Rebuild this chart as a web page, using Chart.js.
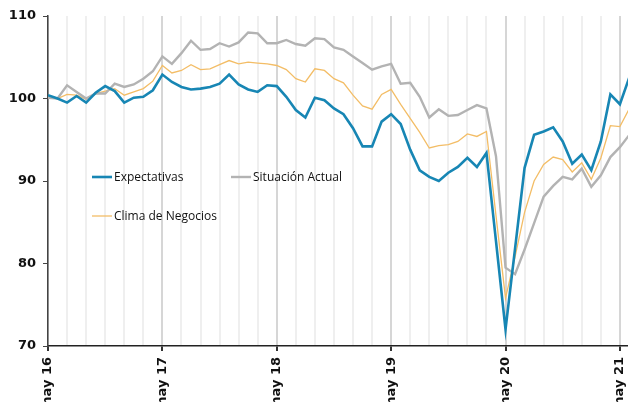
<!DOCTYPE html>
<html>
<head>
<meta charset="utf-8">
<script src="https://cdn.jsdelivr.net/npm/chart.js@4/dist/chart.umd.min.js"></script>
<style>
  html, body { margin: 0; padding: 0; background: #fff; }
  #wrap { width: 628px; height: 402px; }
</style>
</head>
<body>
<div id="wrap"><canvas id="chart"></canvas></div>
<script>
// monthly index, 0 = may 16 ... 61 = jun 21
const tickLabels = ['may 16', 'may 17', 'may 18', 'may 19', 'may 20', 'may 21'];

const expectativas = [100.4, 100.0, 99.5, 100.3, 99.5, 100.7, 101.5, 100.9, 99.5, 100.1, 100.2, 101.0,
  102.9, 102.0, 101.4, 101.1, 101.2, 101.4, 101.8, 102.9, 101.7, 101.1, 100.8, 101.6,
  101.5, 100.2, 98.6, 97.7, 100.1, 99.8, 98.8, 98.1, 96.4, 94.2, 94.2, 97.2,
  98.1, 96.9, 93.8, 91.3, 90.5, 90.0, 91.0, 91.7, 92.8, 91.7, 93.4, 82.7,
  72.0, 81.8, 91.6, 95.6, 96.0, 96.5, 94.8, 92.1, 93.2, 91.3, 94.8, 100.5,
  99.3, 102.6];

const situacion = [100.1, 100.0, 101.6, 100.8, 100.0, 100.6, 100.6, 101.8, 101.4, 101.7, 102.4, 103.3,
  105.1, 104.2, 105.5, 107.0, 105.9, 106.0, 106.7, 106.3, 106.8, 108.0, 107.9, 106.7,
  106.7, 107.1, 106.6, 106.4, 107.3, 107.2, 106.2, 105.9, 105.1, 104.3, 103.5, 103.9,
  104.2, 101.8, 101.9, 100.2, 97.7, 98.7, 97.9, 98.0, 98.6, 99.2, 98.8, 93.0,
  79.5, 78.7, 81.7, 84.9, 88.1, 89.4, 90.5, 90.2, 91.5, 89.3, 90.7, 92.9,
  94.1, 95.6];

const clima = [100.1, 100.0, 100.5, 100.4, 99.9, 100.6, 100.9, 101.2, 100.4, 100.8, 101.2, 102.1,
  104.0, 103.1, 103.4, 104.1, 103.5, 103.6, 104.1, 104.6, 104.2, 104.4, 104.3, 104.2,
  104.0, 103.5, 102.4, 102.0, 103.6, 103.4, 102.4, 101.9, 100.4, 99.1, 98.7, 100.5,
  101.1, 99.3, 97.6, 95.9, 94.0, 94.3, 94.4, 94.8, 95.7, 95.4, 96.0, 85.8,
  75.8, 80.8, 86.2, 90.0, 92.0, 92.9, 92.6, 91.1, 92.2, 90.2, 92.8, 96.7,
  96.6, 98.8];

const toPoints = arr => arr.map((v, i) => ({ x: i, y: v }));

// legend drawn inside the plot, like the original
const innerLegend = {
  id: 'innerLegend',
  afterDraw(chart) {
    const ctx = chart.ctx;
    const spots = [[92, 177], [231, 177], [92, 216]];
    ctx.save();
    ctx.font = '12px "Open Sans"';
    ctx.textBaseline = 'middle';
    chart.data.datasets.forEach((ds, i) => {
      const [x, y] = spots[i];
      ctx.strokeStyle = ds.borderColor;
      ctx.lineWidth = ds.borderWidth;
      ctx.beginPath();
      ctx.moveTo(x, y);
      ctx.lineTo(x + 20, y);
      ctx.stroke();
      ctx.fillStyle = '#111';
      ctx.fillText(ds.label, x + 22, y + 1);
    });
    ctx.restore();
  }
};

new Chart(document.getElementById('chart'), {
  type: 'line',
  data: {
    datasets: [
      { label: 'Expectativas', data: toPoints(expectativas), borderColor: '#1786b4', borderWidth: 2.6 },
      { label: 'Situación Actual', data: toPoints(situacion), borderColor: '#b3b3b3', borderWidth: 2.4 },
      { label: 'Clima de Negocios', data: toPoints(clima), borderColor: '#f3bd66', borderWidth: 1.3 }
    ]
  },
  options: {
    responsive: true,
    maintainAspectRatio: false,
    animation: false,
    elements: { point: { radius: 0 }, line: { tension: 0 } },
    layout: { padding: { top: 16, right: 0, left: 0, bottom: 0 } },
    plugins: { legend: { display: false }, tooltip: { enabled: false } },
    scales: {
      x: {
        type: 'linear',
        min: 0,
        max: 60.85,
        // one tick every two months, labels only on may
        afterBuildTicks: s => {
          const t = [];
          for (let v = 0; v <= 60; v += 2) t.push({ value: v });
          s.ticks = t;
        },
        afterFit: s => { s.height = 56; s.paddingLeft = 0; s.paddingRight = 0; },
        ticks: {
          autoSkip: false,
          minRotation: 90,
          maxRotation: 90,
          padding: 6,
          color: '#111',
          font: { family: 'DejaVu Sans', size: 13, weight: 'bold' },
          callback: v => (v % 12 === 0 ? tickLabels[v / 12] : '')
        },
        grid: {
          lineWidth: 2,
          tickLength: 5,
          color: c => (c.tick && c.tick.value % 12 === 0 ? '#d6d6d6' : '#efefef'),
          tickColor: c => (c.tick && c.tick.value % 12 === 0 ? '#333' : 'rgba(0,0,0,0)')
        },
        border: { color: '#222', width: 1.5 }
      },
      y: {
        min: 70,
        max: 110,
        afterFit: s => { s.width = 48; },
        ticks: {
          stepSize: 10,
          padding: 7,
          color: '#111',
          font: { family: 'DejaVu Sans', size: 13, weight: 'bold' }
        },
        grid: { color: 'rgba(0,0,0,0)', tickColor: '#444', tickLength: 5 },
        border: { color: '#444', width: 1.5 }
      }
    }
  },
  plugins: [innerLegend]
});
</script>
</body>
</html>
